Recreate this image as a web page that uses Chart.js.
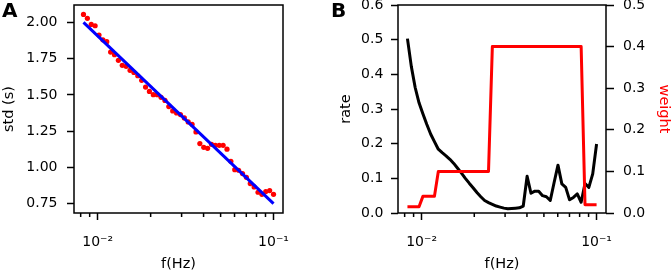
<!DOCTYPE html>
<html lang="en">
<head>
  <meta charset="UTF-8">
  <title>std and rate vs frequency</title>
  <script src="https://cdn.jsdelivr.net/npm/chart.js"></script>
  <style>
    body {
      margin: 0;
      background: #fff;
      width: 671px;
      height: 273px;
      overflow: hidden;
      position: relative;
    }
    canvas { position: absolute; top: 0; }
    #chartA { left: 0; }
    #chartB { left: 335px; }
    .tag {
      position: absolute;
      top: 0;
      font: bold 20px/20px "DejaVu Sans", sans-serif;
      color: #000;
    }
  </style>
</head>
<body>
  <canvas id="chartA" width="335" height="273"></canvas>
  <canvas id="chartB" width="336" height="273"></canvas>
  <div class="tag" style="left:2px">A</div>
  <div class="tag" style="left:331px">B</div>

  <script>
    // frequencies (Hz), shared by both panels
    const freq = [0.00830, 0.008733, 0.009188, 0.009667, 0.01017, 0.01070, 0.01126, 0.01184, 0.01246, 0.01311,
      0.01379, 0.01451, 0.01527, 0.01606, 0.01690, 0.01778, 0.01871, 0.01968, 0.02071, 0.02179,
      0.02292, 0.02412, 0.02537, 0.02670, 0.02809, 0.02955, 0.03110, 0.03271, 0.03442, 0.03621,
      0.03810, 0.04009, 0.04217, 0.04437, 0.04668, 0.04912, 0.05167, 0.05436, 0.05719, 0.06017,
      0.06331, 0.06662, 0.07008, 0.07374, 0.07757, 0.08162, 0.08588, 0.09033, 0.09506, 0.1];

    // panel A
    const stdVals = [2.055, 2.028, 1.986, 1.977, 1.913, 1.880, 1.867, 1.795, 1.777, 1.738,
      1.704, 1.697, 1.669, 1.655, 1.632, 1.600, 1.554, 1.524, 1.501, 1.501,
      1.483, 1.462, 1.419, 1.389, 1.375, 1.364, 1.341, 1.313, 1.297, 1.244,
      1.164, 1.138, 1.131, 1.159, 1.152, 1.152, 1.152, 1.125, 1.042, 0.984,
      0.980, 0.957, 0.931, 0.888, 0.865, 0.828, 0.814, 0.833, 0.840, 0.814];
    const fitFreq = [0.0083, 0.1];
    const fitStd = [2.00, 0.75];
    const stdTicks = [0.75, 1.00, 1.25, 1.50, 1.75, 2.00];

    // panel B
    const rate = [0.503, 0.423, 0.362, 0.318, 0.286, 0.256, 0.228, 0.206, 0.184, 0.174,
      0.165, 0.155, 0.143, 0.129, 0.115, 0.100, 0.086, 0.073, 0.059, 0.047,
      0.036, 0.030, 0.025, 0.020, 0.017, 0.014, 0.012, 0.013, 0.014, 0.015,
      0.020, 0.106, 0.057, 0.063, 0.063, 0.050, 0.047, 0.036, 0.088, 0.138,
      0.084, 0.074, 0.038, 0.045, 0.055, 0.031, 0.085, 0.074, 0.113, 0.199];
    const weight = [0.015, 0.015, 0.015, 0.015, 0.04, 0.04, 0.04, 0.04, 0.1, 0.1,
      0.1, 0.1, 0.1, 0.1, 0.1, 0.1, 0.1, 0.1, 0.1, 0.1,
      0.1, 0.1, 0.4, 0.4, 0.4, 0.4, 0.4, 0.4, 0.4, 0.4,
      0.4, 0.4, 0.4, 0.4, 0.4, 0.4, 0.4, 0.4, 0.4, 0.4,
      0.4, 0.4, 0.4, 0.4, 0.4, 0.4, 0.02, 0.02, 0.02, 0.02];
    const rateTicks = [0, 0.1, 0.2, 0.3, 0.4, 0.5, 0.6];
    const weightTicks = [0, 0.1, 0.2, 0.3, 0.4, 0.5];

    // log x axis
    const xMajor = [0.01, 0.1];
    const xMinor = [0.008, 0.009, 0.02, 0.03, 0.04, 0.05, 0.06, 0.07, 0.08, 0.09];
    const xMin = 0.00733, xMax = 0.1132;

    Chart.defaults.font.family = "'DejaVu Sans', sans-serif";
    Chart.defaults.font.size = 14;
    Chart.defaults.color = "#000";

    const pts = (xs, ys) => xs.map((x, i) => ({ x: x, y: ys[i] }));
    const sup = { "-": "\u207b", "1": "\u00b9", "2": "\u00b2" };
    const powLabel = v => "10" + String(Math.round(Math.log10(v))).split("").map(c => sup[c]).join("");

    // box around the plot + short minor ticks on x
    const framePlugin = {
      id: "frame",
      afterDraw(chart) {
        const { ctx, chartArea: a } = chart;
        const x = chart.scales.x;
        ctx.save();
        ctx.strokeStyle = "#000";
        ctx.lineWidth = 1.5;
        ctx.strokeRect(a.left, a.top, a.right - a.left, a.bottom - a.top);
        ctx.beginPath();
        xMinor.forEach(v => {
          const px = x.getPixelForValue(v);
          ctx.moveTo(px, a.bottom);
          ctx.lineTo(px, a.bottom + 4);
        });
        ctx.stroke();
        ctx.restore();
      }
    };

    function xAxis() {
      return {
        type: "logarithmic",
        min: xMin,
        max: xMax,
        bounds: "data",
        afterBuildTicks: s => { s.ticks = xMajor.map(v => ({ value: v })); },
        afterFit: s => { s.height = 60; s.paddingLeft = 0; s.paddingRight = 0; },
        grid: { drawOnChartArea: false, tickLength: 7, tickWidth: 1.5, tickColor: "#000" },
        border: { display: false },
        ticks: { padding: 13.5, maxRotation: 0, autoSkip: false, font: { size: 14 }, callback: v => powLabel(v) },
        title: { display: true, text: "f(Hz)", padding: { top: 0, bottom: 1.25 }, font: { size: 14.5, lineHeight: 1 } }
      };
    }

    function yAxis(opts) {
      return {
        position: opts.position,
        min: opts.min,
        max: opts.max,
        bounds: "data",
        afterBuildTicks: s => { s.ticks = opts.ticks.map(v => ({ value: v })); },
        afterFit: s => { s.width = opts.width; s.paddingTop = 0; s.paddingBottom = 0; },
        grid: { drawOnChartArea: false, tickLength: opts.tick, tickWidth: 1.5, tickColor: "#000" },
        border: { display: false },
        ticks: { padding: opts.pad, font: { size: 14 }, callback: v => v.toFixed(opts.digits) },
        title: { display: true, text: opts.title, color: opts.titleColor || "#000", padding: { top: opts.titlePad, bottom: 0 }, font: { size: 14.5, lineHeight: 1 } }
      };
    }

    new Chart(document.getElementById("chartA"), {
      type: "scatter",
      data: {
        datasets: [
          {
            label: "fit",
            data: pts(fitFreq, fitStd),
            showLine: true,
            borderColor: "#0000ff",
            borderWidth: 3,
            pointRadius: 0
          },
          {
            label: "std",
            data: pts(freq, stdVals),
            pointRadius: 2.6,
            pointBorderWidth: 0,
            pointBackgroundColor: "#ff0000"
          }
        ]
      },
      options: {
        responsive: false,
        animation: false,
        layout: { padding: { top: 5, right: 52, bottom: 0, left: 0 } },
        plugins: { legend: { display: false }, tooltip: { enabled: false } },
        scales: {
          x: xAxis(),
          y: yAxis({ position: "left", min: 0.685, max: 2.12, ticks: stdTicks, width: 74, tick: 7, pad: 9.5, digits: 2, title: "std (s)", titlePad: 2.25 })
        }
      },
      plugins: [framePlugin]
    });

    new Chart(document.getElementById("chartB"), {
      type: "scatter",
      data: {
        datasets: [
          {
            label: "weight",
            data: pts(freq, weight),
            yAxisID: "y1",
            showLine: true,
            borderColor: "#ff0000",
            borderWidth: 3,
            borderJoinStyle: "round",
            pointRadius: 0
          },
          {
            label: "rate",
            data: pts(freq, rate),
            yAxisID: "y",
            showLine: true,
            borderColor: "#000000",
            borderWidth: 3,
            borderJoinStyle: "round",
            pointRadius: 0
          }
        ]
      },
      options: {
        responsive: false,
        animation: false,
        layout: { padding: { top: 5, right: 0, bottom: 0, left: 0 } },
        plugins: { legend: { display: false }, tooltip: { enabled: false } },
        scales: {
          x: xAxis(),
          y: yAxis({ position: "left", min: 0, max: 0.6, ticks: rateTicks, width: 63, tick: 7, pad: 7.7, digits: 1, title: "rate", titlePad: 3.75 }),
          y1: yAxis({ position: "right", min: 0, max: 0.5, ticks: weightTicks, width: 65, tick: 8, pad: 9, digits: 1, title: "weight", titleColor: "#ff0000", titlePad: 0 })
        }
      },
      plugins: [framePlugin]
    });
  </script>
</body>
</html>
